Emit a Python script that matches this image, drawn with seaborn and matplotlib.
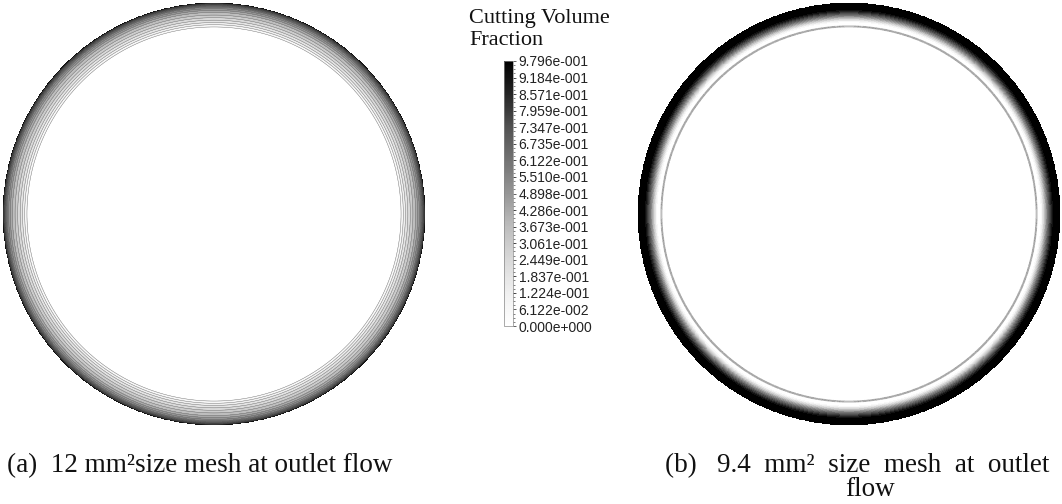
import numpy as np
import matplotlib
matplotlib.use("Agg")
import matplotlib.pyplot as plt
import seaborn as sns
from matplotlib.colors import Normalize

sns.set_theme(style="white")
plt.rcParams['font.family'] = ['Liberation Serif', 'DejaVu Serif']

# ---- data ----
tick_labels = ["0.000e+000", "6.122e-002", "1.224e-001", "1.837e-001", "2.449e-001",
               "3.061e-001", "3.673e-001", "4.286e-001", "4.898e-001", "5.510e-001",
               "6.122e-001", "6.735e-001", "7.347e-001", "7.959e-001", "8.571e-001",
               "9.184e-001", "9.796e-001"]
levels = [float(s) for s in tick_labels]

# radial profile (normalized radius -> cutting volume fraction)
r_a = [0.0, 0.875, 0.89, 0.91, 0.935, 0.96, 0.98, 0.992, 1.0]
v_a = [0.0, 0.0, 0.08, 0.2, 0.33, 0.45, 0.6, 0.85, 0.98]

r_b = [0.0, 0.884, 0.889, 0.894, 0.905, 0.915, 0.93, 0.95, 0.968, 1.0]
v_b = [0.0, 0.0, 0.5, 0.0, 0.0, 0.1, 0.4, 0.75, 0.98, 0.98]

cap_a = "(a)  12 mm\u00b2size mesh at outlet flow"
cap_b1 = "(b)   9.4  mm\u00b2  size  mesh  at  outlet"
cap_b2 = "flow"
cbar_title = "Cutting Volume\nFraction"

W, H = 1062, 504
fig = plt.figure(figsize=(W / 100, H / 100), dpi=100)
cmap = sns.color_palette("Greys", as_cmap=True)
fill_colors = [cmap(l / levels[-1]) for l in levels]

def ring(cx, cy, R, rr, vv, lines):
    pad = 1.01
    ax = fig.add_axes([(cx - R * pad) / W, (H - cy - R * pad) / H,
                       2 * R * pad / W, 2 * R * pad / H])
    g = np.linspace(-1.0, 1.0, 1000)
    X, Y = np.meshgrid(g, g)
    Rg = np.hypot(X, Y)
    Z = np.interp(Rg, rr, vv)
    Z = np.ma.masked_where(Rg > 1.0, Z)
    ax.contourf(X, Y, Z, levels=[-0.01] + levels[1:] + [1.0], colors=fill_colors)
    if lines:
        ax.contour(X, Y, Z, levels=levels[1:], colors="#6a6a6a", linewidths=0.3)
    ax.set_xlim(-pad, pad)
    ax.set_ylim(-pad, pad)
    ax.set_aspect("equal")
    ax.axis("off")
    return ax

ring(214, 214, 211, r_a, v_a, True)
ring(849, 214, 211, r_b, v_b, False)

# colorbar
cax = fig.add_axes([504 / W, (H - 326) / H, 9 / W, 265 / H])
sm = plt.cm.ScalarMappable(norm=Normalize(0, levels[-1]), cmap=cmap)
cb = fig.colorbar(sm, cax=cax)
cb.set_ticks(levels)
cb.set_ticklabels(tick_labels)
cb.ax.tick_params(labelsize=10, length=2.5, width=0.5, pad=1.5, colors="#222222")
for t in cb.ax.get_yticklabels():
    t.set_family(['Liberation Sans', 'DejaVu Sans'])
minor = np.linspace(0, levels[-1], 16 * 4 + 1)
cb.ax.set_yticks(minor, minor=True)
cb.ax.tick_params(which="minor", length=1.5, width=0.4)
cb.outline.set_linewidth(0.5)
cb.outline.set_edgecolor("#888888")

fig.text(469 / W, 1 - 9 / H, cbar_title, fontsize=16, ha="left", va="top",
         linespacing=1.2, color="#111111")

fig.text(7 / W, 1 - 472 / H, cap_a, fontsize=19.5, ha="left", va="baseline",
         color="#111111")
fig.text(665 / W, 1 - 472 / H, cap_b1, fontsize=19.5, ha="left", va="baseline",
         color="#111111")
fig.text(845 / W, 1 - 496 / H, cap_b2, fontsize=19.5, ha="left", va="baseline",
         color="#111111")

fig.savefig("out.png", dpi=100, facecolor="white")
